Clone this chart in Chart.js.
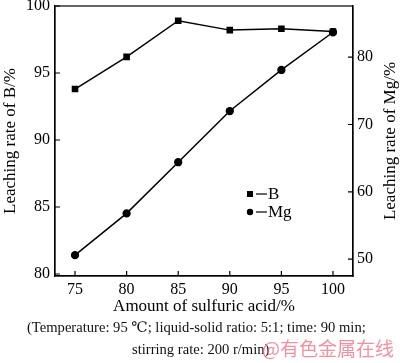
<!DOCTYPE html>
<html>
<head>
<meta charset="utf-8">
<script src="https://cdn.jsdelivr.net/npm/chart.js@4/dist/chart.umd.min.js"></script>
<style>
  html, body { margin: 0; padding: 0; background: #fff; }
  body { width: 400px; height: 363px; position: relative; overflow: hidden; font-family: "Liberation Serif", "DejaVu Serif", serif; }
  #wrap { position: absolute; left: 0; top: 0; width: 400px; height: 320px; }
  .cap { position: absolute; font-size: 14.6px; color: #111; white-space: nowrap; line-height: 16px; }
  .mark { position: absolute; font-family: "Noto Sans CJK SC", sans-serif; font-size: 19px; color: rgba(232, 110, 130, 0.75); white-space: nowrap; line-height: 22px; }
</style>
</head>
<body>
<div id="wrap"><canvas id="c"></canvas></div>
<div class="cap" style="left:27px; top:319px;">(Temperature: 95 ℃; liquid-solid ratio: 5:1; time: 90 min;</div>
<div class="cap" style="left:132px; top:341px;">stirring rate: 200 r/min)</div>
<div class="mark" style="left:262px; top:337px;">@有色金属在线</div>
<script>
// Data
const acidAmount = [75, 80, 85, 90, 95, 100];
const leachB = [93.8, 96.2, 98.9, 98.2, 98.3, 98.1];
const leachMg = [50.6, 56.8, 64.4, 72.0, 78.1, 83.7];
const seriesNames = ['B', 'Mg'];
const xTicks = [75, 80, 85, 90, 95, 100];
const bTicks = [80, 85, 90, 95, 100];
const mgTicks = [50, 60, 70, 80];

const FONT = '"Liberation Serif", "Times New Roman", serif';
const pts = (ys) => acidAmount.map((x, i) => ({ x, y: ys[i] }));
const setTicks = (vals) => (scale) => { scale.ticks = vals.map((v) => ({ value: v })); };

// Inward tick marks, top frame line, right-axis title and inset legend.
const decorations = {
  id: 'decorations',
  afterDraw(chart) {
    const { ctx, chartArea: a, scales } = chart;
    ctx.save();
    ctx.strokeStyle = '#000';
    ctx.lineWidth = 1.2;
    ctx.beginPath();
    scales.x.ticks.forEach((t) => { const p = scales.x.getPixelForValue(t.value); ctx.moveTo(p, a.bottom); ctx.lineTo(p, a.bottom - 5); });
    scales.y.ticks.forEach((t) => { const p = scales.y.getPixelForValue(t.value); ctx.moveTo(a.left, p); ctx.lineTo(a.left + 5, p); });
    scales.y1.ticks.forEach((t) => { const p = scales.y1.getPixelForValue(t.value); ctx.moveTo(a.right, p); ctx.lineTo(a.right - 5, p); });
    ctx.stroke();
    ctx.strokeRect(a.left, a.top, a.width, a.height);

    // right axis title, reading bottom to top
    ctx.fillStyle = '#000';
    ctx.font = '17px ' + FONT;
    ctx.textAlign = 'center';
    ctx.textBaseline = 'middle';
    ctx.save();
    ctx.translate(391, (a.top + a.bottom) / 2);
    ctx.rotate(-Math.PI / 2);
    ctx.fillText('Leaching rate of Mg/%', 0, 0);
    ctx.restore();

    // legend
    const lx = 250, rows = [194, 212];
    ctx.font = '17px ' + FONT;
    rows.forEach((ly, i) => {
      ctx.beginPath();
      if (i === 0) ctx.rect(lx - 3, ly - 3, 6, 6);
      else ctx.arc(lx, ly, 3.2, 0, Math.PI * 2);
      ctx.fill();
      ctx.beginPath(); ctx.moveTo(lx + 6, ly); ctx.lineTo(lx + 17, ly); ctx.stroke();
      ctx.textAlign = 'left';
      ctx.fillText(seriesNames[i], lx + 18, ly + 1);
    });
    ctx.restore();
  },
};

// Force axis box sizes and drop the label overhang padding so the plot frame sits where the original does.
const fixSize = (w, h) => (scale) => {
  if (w != null) scale.width = w;
  if (h != null) scale.height = h;
  scale.paddingTop = 0; scale.paddingBottom = 0; scale.paddingLeft = 0; scale.paddingRight = 0;
};
const tickFont = { family: FONT, size: 16 };
const titleFont = { family: FONT, size: 17 };

new Chart(document.getElementById('c'), {
  type: 'line',
  data: {
    datasets: [
      { label: seriesNames[0], data: pts(leachB), yAxisID: 'y', borderColor: '#000', backgroundColor: '#000', borderWidth: 1.5, pointStyle: 'rect', pointRadius: 3.6, tension: 0 },
      { label: seriesNames[1], data: pts(leachMg), yAxisID: 'y1', borderColor: '#000', backgroundColor: '#000', borderWidth: 1.5, pointStyle: 'circle', pointRadius: 3.4, tension: 0 },
    ],
  },
  options: {
    responsive: true,
    maintainAspectRatio: false,
    animation: false,
    layout: { padding: { top: 6, left: 0, right: 0, bottom: 0 } },
    plugins: { legend: { display: false }, tooltip: { enabled: false } },
    scales: {
      x: {
        type: 'linear', min: 73.06, max: 101.94,
        afterBuildTicks: setTicks(xTicks),
        afterFit: fixSize(null, 44),
        grid: { display: true, drawOnChartArea: false, drawTicks: false },
        border: { color: '#000', width: 1.2 },
        ticks: { padding: 4, color: '#000', font: tickFont },
        title: { display: true, text: 'Amount of sulfuric acid/%', color: '#000', font: titleFont, padding: { top: 0, bottom: 3 } },
      },
      y: {
        position: 'left', min: 79.85, max: 100,
        afterBuildTicks: setTicks(bTicks),
        afterFit: fixSize(55, null),
        grid: { display: true, drawOnChartArea: false, drawTicks: false },
        border: { color: '#000', width: 1.2 },
        ticks: { padding: 5, color: '#000', font: tickFont },
        title: { display: true, text: 'Leaching rate of B/%', color: '#000', font: titleFont, padding: { top: 0, bottom: 0 } },
      },
      y1: {
        position: 'right', min: 47.5, max: 87.6,
        afterBuildTicks: setTicks(mgTicks),
        afterFit: fixSize(47, null),
        grid: { display: true, drawOnChartArea: false, drawTicks: false },
        border: { color: '#000', width: 1.2 },
        ticks: { padding: 4, color: '#000', font: tickFont },
      },
    },
  },
  plugins: [decorations],
});
</script>
</body>
</html>
